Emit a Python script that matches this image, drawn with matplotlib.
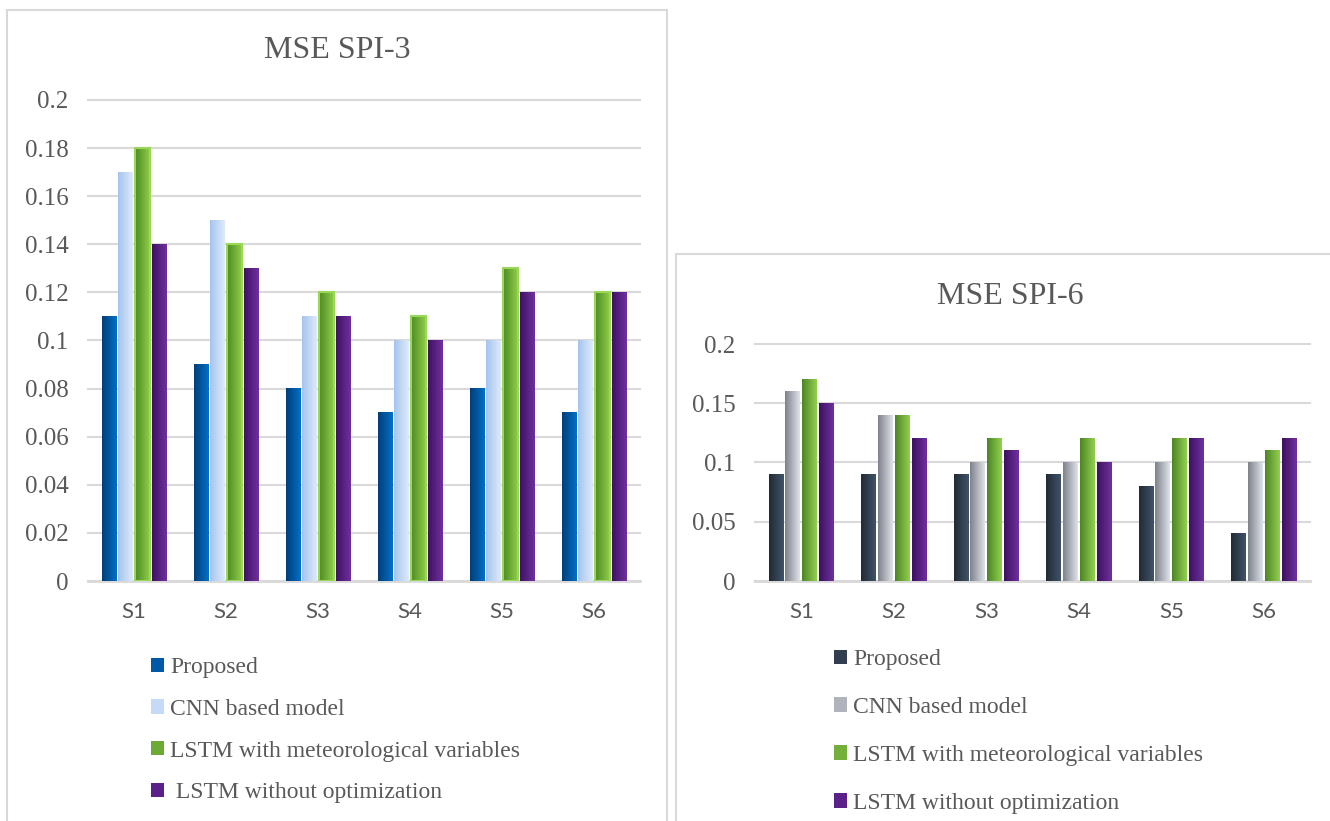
import matplotlib
matplotlib.use("Agg")
import matplotlib.pyplot as plt
import numpy as np
from matplotlib.colors import LinearSegmentedColormap
from matplotlib.patches import Patch, Rectangle

# data
categories = ["S1", "S2", "S3", "S4", "S5", "S6"]
series_names = ["Proposed", "CNN based model",
                "LSTM with meteorological variables", "LSTM without optimization"]

spi3_proposed = [0.11, 0.09, 0.08, 0.07, 0.08, 0.07]
spi3_cnn = [0.17, 0.15, 0.11, 0.10, 0.10, 0.10]
spi3_lstm_met = [0.18, 0.14, 0.12, 0.11, 0.13, 0.12]
spi3_lstm_plain = [0.14, 0.13, 0.11, 0.10, 0.12, 0.12]

spi6_proposed = [0.09, 0.09, 0.09, 0.09, 0.08, 0.04]
spi6_cnn = [0.16, 0.14, 0.10, 0.10, 0.10, 0.10]
spi6_lstm_met = [0.17, 0.14, 0.12, 0.12, 0.12, 0.11]
spi6_lstm_plain = [0.15, 0.12, 0.11, 0.10, 0.12, 0.12]

spi3_ticks = [0, 0.02, 0.04, 0.06, 0.08, 0.1, 0.12, 0.14, 0.16, 0.18, 0.2]
spi6_ticks = [0, 0.05, 0.1, 0.15, 0.2]

# gradient colours (left -> right) for each series, plus legend swatch colour
spi3_colors = [("#003f7a", "#0070c8"), ("#a4c4ee", "#dfeaf9"),
               ("#4d8a25", "#8fcf45"), ("#3f1262", "#7030a0")]
spi3_swatch = ["#0058a8", "#c4daf5", "#6aaa35", "#5a2288"]
spi6_colors = [("#222b36", "#405369"), ("#7d828b", "#dfe3ea"),
               ("#4c8624", "#92d050"), ("#3d1160", "#7030a0")]
spi6_swatch = ["#323f50", "#aeb3bc", "#72b03a", "#5a2288"]

TXT = "#595959"
GRID = "#d9d9d9"
SERIF = "Liberation Serif"
SANS = "Lato"

W, H = 1330, 821
fig = plt.figure(figsize=(W / 100, H / 100), dpi=100)


def fx(px):
    return px / W


def fy(py):
    return 1 - py / H


# panel frames
fig.add_artist(Rectangle((fx(7), -0.01), fx(660), fy(10) + 0.01, transform=fig.transFigure,
                         fill=False, edgecolor=GRID, lw=1.5))
fig.add_artist(Rectangle((fx(676), -0.01), fx(700), fy(254) + 0.01, transform=fig.transFigure,
                         fill=False, edgecolor=GRID, lw=1.5))


def draw_panel(rect, title, title_xy, series, colors, swatch, ticks, leg_xy, leg_spacing,
               edge_green=False):
    ax = fig.add_axes(rect)
    x = np.arange(len(categories))
    width = 0.16
    pitch = 0.182
    grad = np.linspace(0, 1, 64).reshape(1, -1)
    for i, vals in enumerate(series):
        c0, c1 = colors[i]
        cmap = LinearSegmentedColormap.from_list("g%d" % i, [c0, c1])
        edge = "#9ad85a" if (edge_green and i == 2) else "none"
        bars = ax.bar(x + (i - 1.5) * pitch, vals, width, facecolor="none",
                      edgecolor=edge, lw=1.5, zorder=4)
        for b in bars:
            bx, by = b.get_x(), b.get_y()
            ax.imshow(grad, extent=[bx, bx + b.get_width(), by, by + b.get_height()],
                      cmap=cmap, aspect="auto", interpolation="bilinear", zorder=3)
    ax.set_xlim(-0.5, len(categories) - 0.5)
    ax.set_ylim(0, 0.2)
    ax.set_yticks(ticks)
    ax.set_yticklabels(["{:g}".format(t) for t in ticks], fontfamily=SERIF,
                       fontsize=18, color=TXT)
    ax.set_xticks(x)
    ax.set_xticklabels(categories, fontfamily=SANS, fontsize=16, color=TXT)
    ax.tick_params(axis="both", length=0)
    ax.tick_params(axis="y", pad=14)
    ax.tick_params(axis="x", pad=15)
    for s in ["top", "right", "left"]:
        ax.spines[s].set_visible(False)
    ax.spines["bottom"].set_color(GRID)
    ax.spines["bottom"].set_linewidth(2)
    ax.yaxis.grid(True, color=GRID, lw=1.5, zorder=0)
    for gl in ax.get_ygridlines():
        gl.set_clip_on(False)
    ax.set_axisbelow(True)

    fig.text(fx(title_xy[0]), fy(title_xy[1]), title, fontfamily=SERIF, fontsize=23,
             color=TXT, ha="center", va="center")

    handles = [Patch(facecolor=c, edgecolor="none") for c in swatch]
    labels = list(series_names)
    if edge_green:
        labels[3] = " " + labels[3]
    fig.legend(handles, labels, loc="upper left",
               bbox_to_anchor=(fx(leg_xy[0]), fy(leg_xy[1])),
               frameon=False, prop={"family": SERIF, "size": 17},
               labelcolor=TXT, handlelength=0.55, handleheight=0.55,
               handletextpad=0.25, labelspacing=leg_spacing,
               borderpad=0, borderaxespad=0)
    return ax


draw_panel([fx(88), fy(581), fx(552), (581 - 100) / H], "MSE SPI-3", (337, 50),
           [spi3_proposed, spi3_cnn, spi3_lstm_met, spi3_lstm_plain],
           spi3_colors, spi3_swatch, spi3_ticks, (151, 657), 0.88, edge_green=True)

draw_panel([fx(755), fy(581), fx(555), (581 - 344) / H], "MSE SPI-6", (1010, 297),
           [spi6_proposed, spi6_cnn, spi6_lstm_met, spi6_lstm_plain],
           spi6_colors, spi6_swatch, spi6_ticks, (834, 649), 1.14)

fig.savefig("out.png", dpi=100, facecolor="white")
